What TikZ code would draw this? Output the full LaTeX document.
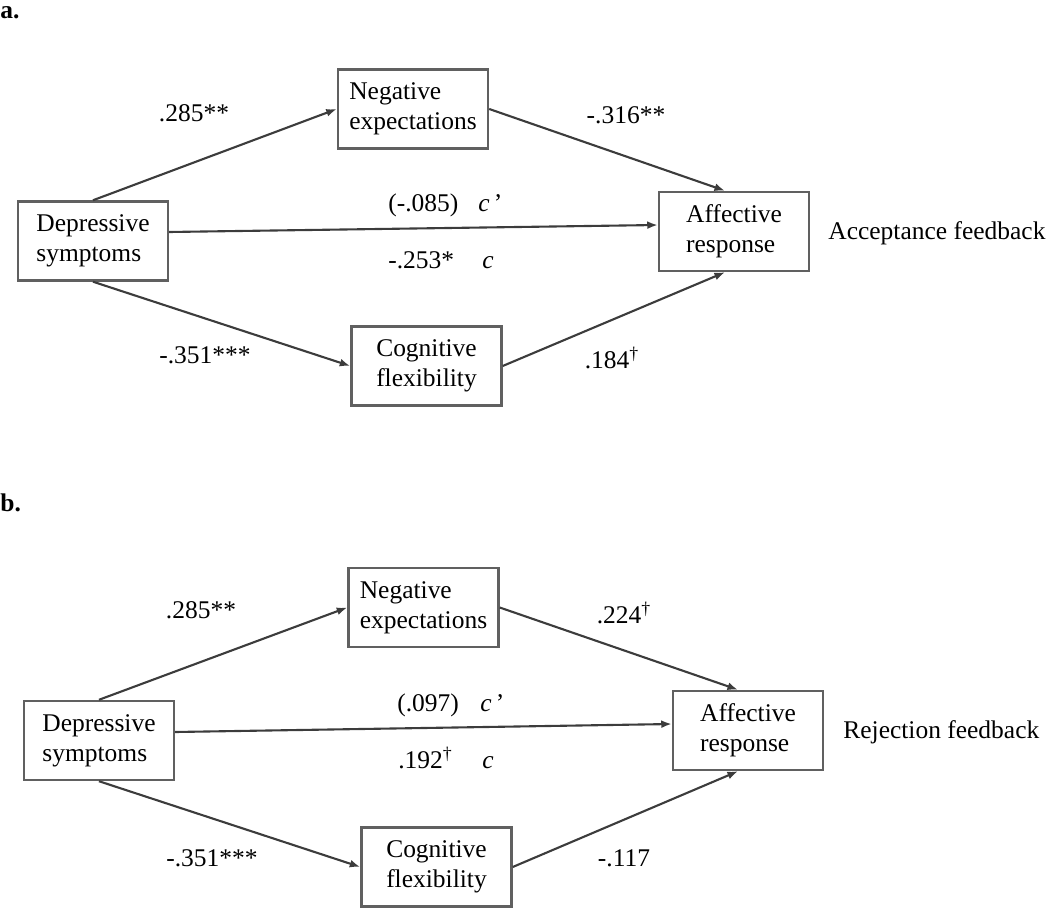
\documentclass[tikz,border=0pt]{standalone}
\usepackage{fontspec}
\setmainfont{Liberation Serif}
\usepackage{tikz}
\usetikzlibrary{arrows.meta,positioning}
\definecolor{mline}{HTML}{3C3C3C}
\definecolor{mbox}{HTML}{606060}
\tikzstyle{box}=[rectangle, draw=mbox, line width=1.4pt, minimum width=3cm, minimum height=1.58cm, inner sep=2pt, align=left, font=\fontsize{14.5}{17}\selectfont]
\tikzstyle{lbl}=[inner sep=0pt, font=\fontsize{14.5}{17}\selectfont]
\tikzstyle{l1}=[draw=mline, line width=1.2pt, -{Latex[length=6pt,width=4.5pt]}]
\newcommand{\dg}{\textsuperscript{†}}

\begin{document}
\begin{tikzpicture}[x=0.02cm, y=-0.02cm]
    \useasboundingbox (0,0) rectangle (1050,911);
    \node[lbl, anchor=west, font=\fontsize{14.5}{17}\selectfont\bfseries] at (0,13) (pa) {a.};
    \node[lbl, anchor=west, font=\fontsize{14.5}{17}\selectfont\bfseries] at (0,503) (pb) {b.};

    % acceptance
    \begin{scope}
        \node[box] at (93,241) (ds1) {Depressive\\symptoms};
        \node[box] at (413,109) (ne1) {Negative\\expectations};
        \node[box] at (426.5,366) (cf1) {Cognitive\\flexibility};
        \node[box] at (734,231.5) (ar1) {Affective\\response};
        \node[lbl, anchor=west] at (828,233) (fb1) {Acceptance feedback};

        \node[lbl] at (194,113) (a1) {.285**};
        \node[lbl] at (626,115) (b1) {-.316**};
        \node[lbl, anchor=west] at (388,205) (cp1) {\makebox[1.8cm][l]{(-.085)}\textit{c}\,’};
        \node[lbl, anchor=west] at (388,260) (c1) {\makebox[1.88cm][l]{-.253*}\textit{c}};
        \node[lbl] at (205,355) (d1) {-.351***};
        \node[lbl] at (612,358) (e1) {.184\dg};

        \draw[l1] (ds1.north) -- (ne1.west);
        \draw[l1] (ne1.east) -- ([xshift=-0.18cm]ar1.north);
        \draw[l1] ([yshift=0.18cm]ds1.east) -- ([yshift=0.13cm]ar1.west);
        \draw[l1] (ds1.south) -- (cf1.west);
        \draw[l1] (cf1.east) -- ([xshift=-0.18cm]ar1.south);
    \end{scope}

    % rejection
    \begin{scope}[shift={(0,500)}]
        \node[box] at (99,240.5) (ds2) {Depressive\\symptoms};
        \node[box] at (423.5,107.5) (ne2) {Negative\\expectations};
        \node[box] at (436.5,367) (cf2) {Cognitive\\flexibility};
        \node[box] at (748,230.5) (ar2) {Affective\\response};
        \node[lbl, anchor=west] at (843,232) (fb2) {Rejection feedback};

        \node[lbl] at (201,110) (a2) {.285**};
        \node[lbl] at (624,113) (b2) {.224\dg};
        \node[lbl, anchor=west] at (397,205) (cp2) {\makebox[1.66cm][l]{(.097)}\textit{c}\,’};
        \node[lbl, anchor=west] at (398,258) (c2) {\makebox[1.68cm][l]{.192\dg}\textit{c}};
        \node[lbl] at (212,358) (d2) {-.351***};
        \node[lbl] at (624,358) (e2) {-.117};

        \draw[l1] (ds2.north) -- (ne2.west);
        \draw[l1] (ne2.east) -- ([xshift=-0.2cm]ar2.north);
        \draw[l1] ([yshift=0.17cm]ds2.east) -- ([yshift=0.13cm]ar2.west);
        \draw[l1] (ds2.south) -- (cf2.west);
        \draw[l1] (cf2.east) -- ([xshift=-0.2cm]ar2.south);
    \end{scope}
\end{tikzpicture}
\end{document}
